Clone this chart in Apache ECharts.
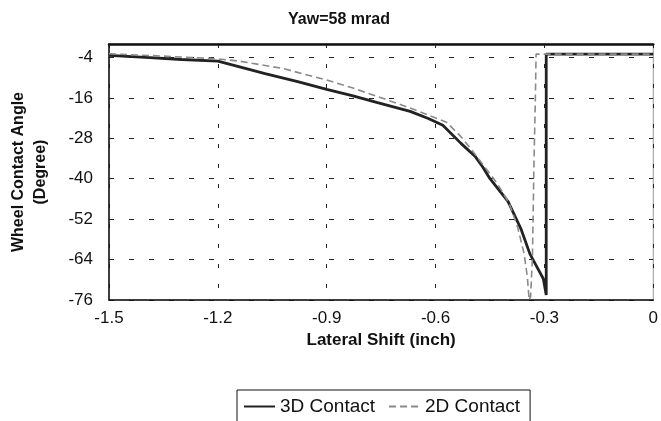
<!DOCTYPE html>
<html>
<head>
<meta charset="utf-8">
<script src="https://cdn.jsdelivr.net/npm/echarts@6/dist/echarts.min.js"></script>
<style>
html,body{margin:0;padding:0;background:#fff;}
#main{width:661px;height:421px;}
</style>
</head>
<body>
<div id="main"></div>
<script>
// Chart data
var chartTitle = 'Yaw=58 mrad';
var xName = 'Lateral Shift (inch)';
var yName = 'Wheel Contact Angle\n(Degree)';
var seriesNames = ['3D Contact', '2D Contact'];

var x3d = [-1.5, -1.4, -1.3, -1.2, -1.14, -1.07, -0.98, -0.9, -0.83, -0.76, -0.67, -0.62, -0.58, -0.53, -0.49, -0.47, -0.45, -0.40, -0.365, -0.34, -0.32, -0.303, -0.295, -0.295, 0];
var y3d = [-3.4, -4.0, -4.6, -5.1, -6.8, -8.8, -11.2, -13.5, -15.3, -17.4, -20.0, -22.1, -24.1, -29.5, -33.5, -36.5, -40.0, -46.8, -54.8, -62.3, -66.3, -69.7, -74.5, -3.0, -3.0];

var x2d = [-1.5, -1.35, -1.2, -1.14, -1.08, -1.02, -0.96, -0.9, -0.83, -0.76, -0.67, -0.62, -0.57, -0.53, -0.5, -0.475, -0.43, -0.397, -0.374, -0.356, -0.347, -0.342, -0.338, -0.333, -0.329, -0.325, -0.323, 0];
var y2d = [-2.9, -3.6, -4.4, -5.1, -6.2, -7.3, -9.0, -10.7, -13.0, -15.6, -19.0, -21.1, -23.2, -27.5, -31.5, -35.0, -41.4, -47.3, -54.3, -62.2, -69.2, -76, -75, -63.2, -36.5, -16.6, -3.0, -3.0];

var xMin = -1.5, xMax = 0, xStep = 0.3;
var yMin = -76, yMax = 0, yStep = 12;

function pairs(xs, ys) { return xs.map(function (x, i) { return [x, ys[i]]; }); }

var FONT = 'Liberation Sans, Arial, Helvetica, sans-serif';
var chart = echarts.init(document.getElementById('main'), null, {renderer: 'canvas'});
chart.setOption({
  animation: false,
  backgroundColor: '#fff',
  textStyle: {fontFamily: FONT},
  title: {
    text: chartTitle,
    left: 334, top: 7, textAlign: 'center',
    textStyle: {fontFamily: FONT, fontSize: 16, fontWeight: 'bold', color: '#111'}
  },
  legend: {
    data: [
      {name: seriesNames[0]},
      {name: seriesNames[1]}
    ],
    left: 237, top: 390,
    orient: 'horizontal',
    itemWidth: 31, itemHeight: 14, itemGap: 13,
    padding: [7, 10, 20, 6],
    borderColor: '#111', borderWidth: 1, borderRadius: 0,
    itemStyle: {opacity: 0},
    textStyle: {fontFamily: FONT, fontSize: 19, color: '#111'}
  },
  grid: {
    left: 109, right: 5, top: 44, bottom: 121,
    show: true, borderColor: '#999', borderWidth: 1
  },
  xAxis: [{
    type: 'value', min: xMin, max: xMax, interval: xStep,
    position: 'bottom',
    name: xName, nameLocation: 'middle', nameGap: 31,
    nameTextStyle: {fontFamily: FONT, fontSize: 17, fontWeight: 'bold', color: '#111'},
    axisLine: {show: true, onZero: false, lineStyle: {color: '#111', width: 1.5}},
    axisTick: {show: false},
    axisLabel: {
      margin: 10, fontSize: 17, color: '#111', fontFamily: FONT,
      formatter: function (v) { return Math.abs(v) < 1e-9 ? '0' : v.toFixed(1); }
    },
    splitLine: {show: true, lineStyle: {color: '#222', width: 1, type: [4, 16]}}
  }, {
    type: 'value', min: xMin, max: xMax, interval: xStep,
    position: 'top',
    axisLine: {show: true, onZero: false, lineStyle: {color: '#111', width: 2.5}},
    axisTick: {show: false}, axisLabel: {show: false}, splitLine: {show: false}
  }],
  yAxis: {
    type: 'value', min: yMin, max: yMax, interval: yStep,
    name: yName, nameLocation: 'middle', nameGap: 57, nameRotate: 90,
    nameTextStyle: {fontFamily: FONT, fontSize: 16, fontWeight: 'bold', color: '#111', lineHeight: 22},
    axisLine: {show: true, onZero: false, lineStyle: {color: '#111', width: 1.5}},
    axisTick: {show: false},
    axisLabel: {
      margin: 16, fontSize: 17, color: '#111', fontFamily: FONT,
      showMaxLabel: false,
      formatter: function (v) { return v === 0 ? '' : String(v); }
    },
    splitLine: {show: true, lineStyle: {color: '#222', width: 1, type: [5, 15]}}
  },
  series: [{
    name: seriesNames[0], type: 'line', data: pairs(x3d, y3d),
    showSymbol: false, symbol: 'none', smooth: false,
    lineStyle: {color: '#222', width: 2.8},
    itemStyle: {color: '#222'}
  }, {
    name: seriesNames[1], type: 'line', data: pairs(x2d, y2d),
    showSymbol: false, symbol: 'none', smooth: false,
    lineStyle: {color: '#8a8a8a', width: 1.6, type: [7, 4]},
    itemStyle: {color: '#8a8a8a'}
  }]
});
</script>
</body>
</html>
